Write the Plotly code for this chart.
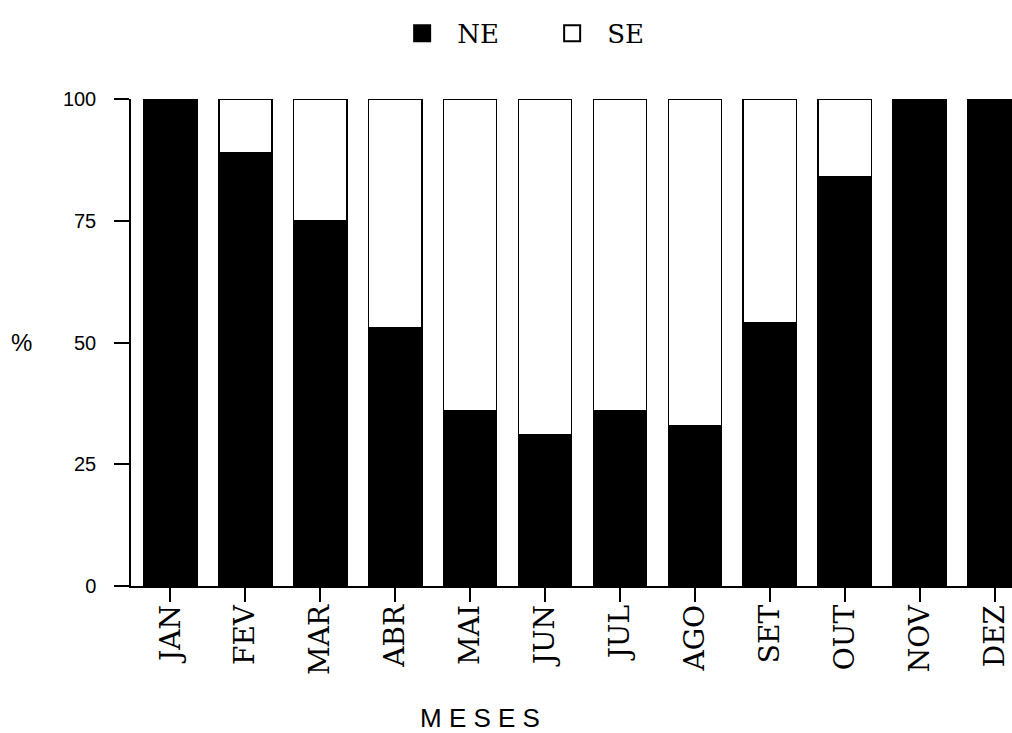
import plotly.graph_objects as go

months = ["JAN", "FEV", "MAR", "ABR", "MAI", "JUN", "JUL", "AGO", "SET", "OUT", "NOV", "DEZ"]
ne = [100, 89, 75, 53, 36, 31, 36, 33, 54, 84, 100, 100]
se = [100 - v for v in ne]
y_ticks = [0, 25, 50, 75, 100]

fig = go.Figure()
fig.add_trace(go.Bar(x=months, y=ne, name="NE", marker=dict(color="black", line=dict(color="black", width=1.5)),
                     width=0.71, showlegend=False))
fig.add_trace(go.Bar(x=months, y=se, name="SE", marker=dict(color="white", line=dict(color="black", width=1.5)),
                     width=0.71, showlegend=False))
# legend proxies
fig.add_trace(go.Scatter(x=[None], y=[None], mode="markers", name="NE",
                         marker=dict(symbol="square", size=16, color="black", line=dict(color="black", width=2))))
fig.add_trace(go.Scatter(x=[None], y=[None], mode="markers", name="SE",
                         marker=dict(symbol="square", size=16, color="white", line=dict(color="black", width=2))))

fig.update_layout(
    width=1012, height=733,
    barmode="stack",
    plot_bgcolor="white", paper_bgcolor="white",
    margin=dict(l=131, r=0, t=99, b=147),
    showlegend=True,
    legend=dict(orientation="h", x=0.461, xanchor="center", y=1.135, yanchor="middle",
                traceorder="normal", entrywidth=75, entrywidthmode="pixels", itemwidth=60,
                font=dict(family="DejaVu Serif", size=26, color="black")),
    xaxis=dict(
        type="category", range=[-0.527, 11.233],
        showline=True, linecolor="black", linewidth=1.5,
        ticks="outside", ticklen=14, tickwidth=1.5, tickcolor="black",
        ticklabelstandoff=-8,
        tickangle=-90, tickfont=dict(family="DejaVu Serif", size=28, color="black"),
        showgrid=False, zeroline=False,
    ),
    yaxis=dict(
        range=[0, 100], tickvals=y_ticks, ticktext=[str(v) for v in y_ticks],
        showline=True, linecolor="black", linewidth=1.5,
        ticks="outside", ticklen=15, tickwidth=1.5, tickcolor="black",
        ticklabelstandoff=14,
        tickfont=dict(family="Liberation Sans", size=20, color="black"),
        showgrid=False, zeroline=False,
    ),
    annotations=[
        dict(text="%", x=(21 - 131) / 881, y=50, xref="paper", yref="y", xanchor="center",
             showarrow=False, font=dict(family="Liberation Sans", size=24, color="black")),
        dict(text="M E S E S", x=0.396, y=-0.271, xref="paper", yref="paper", xanchor="center",
             showarrow=False, yanchor="middle", font=dict(family="Liberation Sans", size=26, color="black")),
    ],
)

fig.write_html("out.html", config={"displayModeBar": False},
               post_script="document.body.style.margin='0';")
